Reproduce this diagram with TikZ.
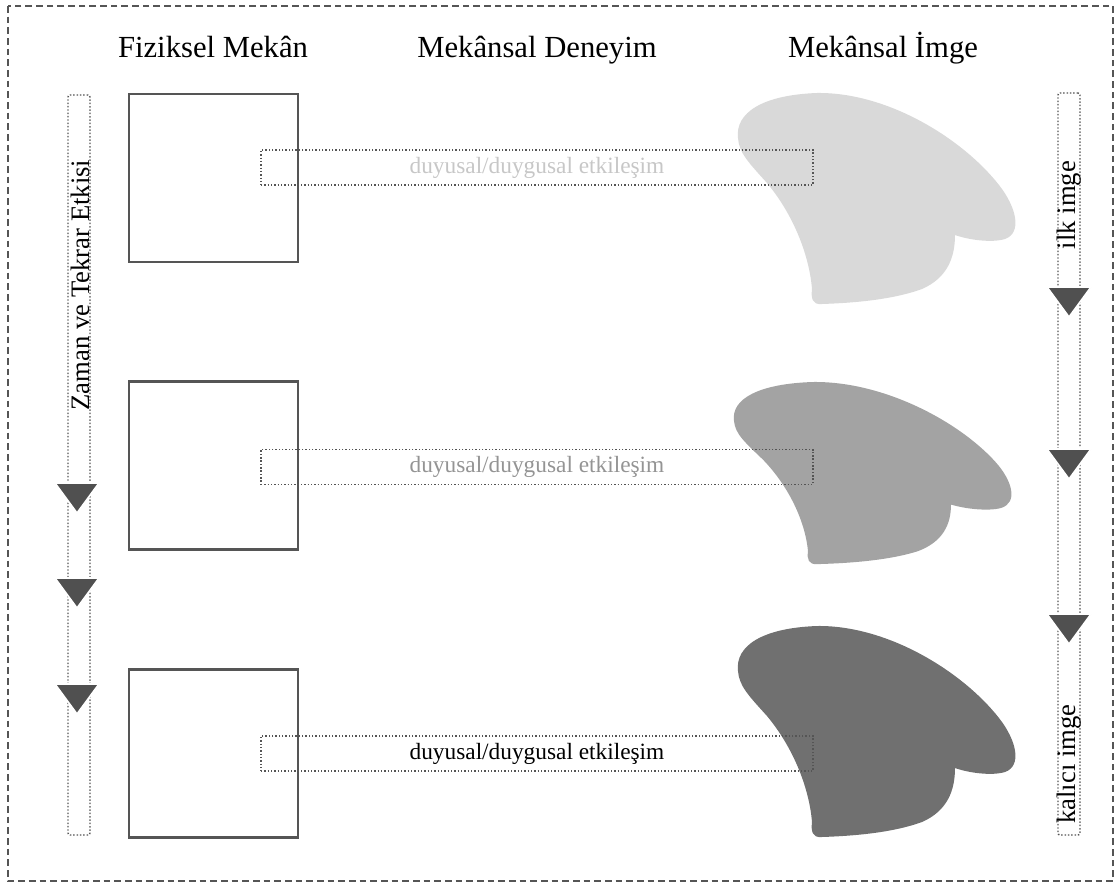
\documentclass[tikz,border=0pt]{standalone}
\usepackage{fontspec}
\setmainfont{Liberation Serif}
\definecolor{framegray}{HTML}{555555}
\definecolor{arrowgray}{HTML}{505050}
\definecolor{imgone}{HTML}{D9D9D9}
\definecolor{imgtwo}{HTML}{A3A3A3}
\definecolor{imgthree}{HTML}{707070}
% imge lekesi (sol ust kose 0,0; birim piksel)
\newcommand{\imgblob}{(1,45) .. controls (-2,20) and (25,2) .. (80,0)
  .. controls (150,-1) and (225,45) .. (262,92)
  .. controls (280,115) and (285,140) .. (268,146)
  .. controls (255,150) and (232,147) .. (218,142)
  .. controls (218,165) and (210,185) .. (185,196)
  .. controls (155,207) and (115,210) .. (85,211)
  .. controls (75,212) and (74,205) .. (75,196)
  .. controls (72,160) and (55,120) .. (30,90)
  .. controls (12,70) and (2,60) .. (1,45) -- cycle}

\begin{document}
\begin{tikzpicture}[x=0.75pt,y=-0.75pt,
  mekan/.style={draw=framegray, line width=1.6pt, minimum width=126.75pt, minimum height=126pt, inner sep=0pt},
  etkilesim/.style={draw=framegray, line width=1.1pt, dash pattern=on 1.1pt off 1.4pt, minimum width=414pt, minimum height=26.25pt, inner sep=0pt, font=\fontsize{17.5}{19}\selectfont},
  sidebar/.style={draw=framegray, line width=1.1pt, dash pattern=on 1.1pt off 1.4pt, rounded corners=1.5pt, minimum width=16.5pt, inner sep=0pt},
  sidetext/.style={rotate=90, inner sep=0pt, font=\fontsize{20}{22}\selectfont},
  baslik/.style={anchor=base, inner sep=0pt, font=\fontsize{23}{25}\selectfont},
  arrowtri/.style={fill=arrowgray, draw=white, line width=1.2pt, line join=miter}]
  \useasboundingbox (0,0) rectangle (1118,885);
  \draw[framegray, line width=1pt, dash pattern=on 5pt off 3pt] (8,6) rectangle (1113,881);

  % basliklar
  \node[baslik] (hfiz) at (213,57) {Fiziksel Mekân};
  \node[baslik] (hdeney) at (537,57) {Mekânsal Deneyim};
  \node[baslik] (himge) at (883,57) {Mekânsal İmge};

  % imgeler
  \fill[imgone, shift={(737,93)}] \imgblob;
  \fill[imgtwo, shift={(733,382)}, yscale=0.863] \imgblob;
  \fill[imgthree, shift={(737,626)}] \imgblob;

  % duyusal/duygusal etkilesim
  \node[etkilesim, text=black!22] (et1) at (537,167.5) {duyusal/duygusal etkileşim};
  \node[etkilesim, text=black!42] (et2) at (537,467) {duyusal/duygusal etkileşim};
  \node[etkilesim, text=black] (et3) at (537,753.5) {duyusal/duygusal etkileşim};

  % fiziksel mekan kutulari
  \node[mekan] (m1) at (213.5,178) {};
  \node[mekan] (m2) at (213.5,465.5) {};
  \node[mekan] (m3) at (213.5,753.5) {};

  % yan seritler
  \node[sidebar, minimum height=555pt] (zaman) at (79,465) {};
  \node[sidebar, minimum height=556.5pt] (imgebar) at (1069,464) {};
  \foreach \ty in {483,578,684} \draw[arrowtri] (55,\ty) -- (99,\ty) -- (77,{\ty+30}) -- cycle;
  \foreach \ty in {287,449,614} \draw[arrowtri] (1047,\ty) -- (1091,\ty) -- (1069,{\ty+30}) -- cycle;
  \node[sidetext] (zamantxt) at (80,285) {Zaman ve Tekrar Etkisi};
  \node[sidetext] (ilk) at (1069,205) {ilk imge};
  \node[sidetext] (kalici) at (1069,764) {kalıcı imge};
\end{tikzpicture}
\end{document}
